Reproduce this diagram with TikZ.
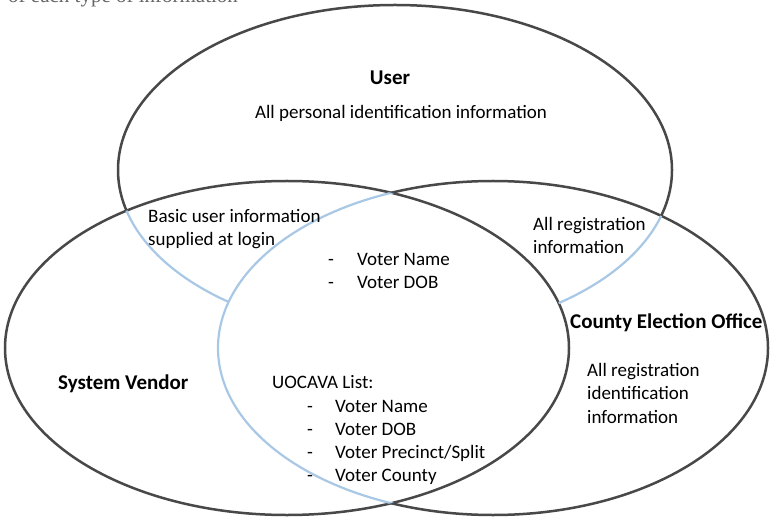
\documentclass[tikz,border=0pt]{standalone}
\usepackage{fontspec}
\setmainfont{Carlito}
\newfontfamily\captionserif{Liberation Serif}
\definecolor{rimgray}{RGB}{72,72,72}
\definecolor{tintblue}{RGB}{168,200,230}
\begin{document}
\begin{tikzpicture}[x=1pt,y=-1pt,
  rim/.style={draw=rimgray, line width=2.5pt},
  tint/.style={draw=tintblue, line width=2.2pt},
  body/.style={anchor=base west, inner sep=0pt, font=\fontsize{19}{23}\selectfont},
  title/.style={inner sep=0pt, font=\fontsize{21}{25}\selectfont\bfseries}]
\useasboundingbox (0,0) rectangle (770,518);
\fill[white] (0,0) rectangle (770,518);
\def\Upath{(395,170) ellipse [x radius=277pt, y radius=165pt]}
\def\Vpath{(287,348) ellipse [x radius=282pt, y radius=167pt]}
\def\Cpath{(493,348) ellipse [x radius=275pt, y radius=167pt]}
% System Vendor ellipse
\draw[rim] \Vpath;
% County ellipse: black outside vendor, blue inside
\begin{scope}[even odd rule]
  \clip (-20,-20) rectangle (790,540) \Vpath;
  \draw[rim] \Cpath;
\end{scope}
\begin{scope}
  \clip \Vpath;
  \draw[tint] \Cpath;
\end{scope}
% User ellipse: black outside both, blue in exactly one
\begin{scope}[even odd rule]
  \clip (-20,-20) rectangle (790,540) \Vpath;
  \clip (-20,-20) rectangle (790,540) \Cpath;
  \draw[rim] \Upath;
\end{scope}
\begin{scope}[even odd rule]
  \clip \Vpath \Cpath;
  \draw[tint] \Upath;
\end{scope}
% cut-off caption at top (only its lower part lies inside the picture)
\node[anchor=base west, inner sep=0pt, font=\captionserif\fontsize{21}{25}\selectfont, text=black!60] (cap) at (8,3) {of each type of information};
% texts
\node[title, anchor=base] (user) at (390,85) {User};
\node[body, anchor=base] (userinfo) at (401,119) {All personal identification information};
\node[body] (basic1) at (148,223) {Basic user information};
\node[body] (basic2) at (148,246) {supplied at login};
\node[body] (reg1) at (533,231) {All registration};
\node[body] (reg2) at (533,254) {information};
\node[body] (d1) at (328,266) {-};
\node[body] (n1) at (357,266) {Voter Name};
\node[body] (d2) at (328,288) {-};
\node[body] (n2) at (357,288) {Voter DOB};
\node[title, anchor=base west] (county) at (570,328) {County Election Office};
\node[title, anchor=base west] (vendor) at (58,389) {System Vendor};
\node[body] (list) at (272,388) {UOCAVA List:};
\node[body] (ld1) at (307,412) {-};
\node[body] (l1) at (335,412) {Voter Name};
\node[body] (ld2) at (307,435) {-};
\node[body] (l2) at (335,435) {Voter DOB};
\node[body] (ld3) at (307,458) {-};
\node[body] (l3) at (335,458) {Voter Precinct/Split};
\node[body] (ld4) at (307,481) {-};
\node[body] (l4) at (335,481) {Voter County};
\node[body] (cr1) at (587,376) {All registration};
\node[body] (cr2) at (587,399) {identification};
\node[body] (cr3) at (587,423) {information};
\end{tikzpicture}
\end{document}
